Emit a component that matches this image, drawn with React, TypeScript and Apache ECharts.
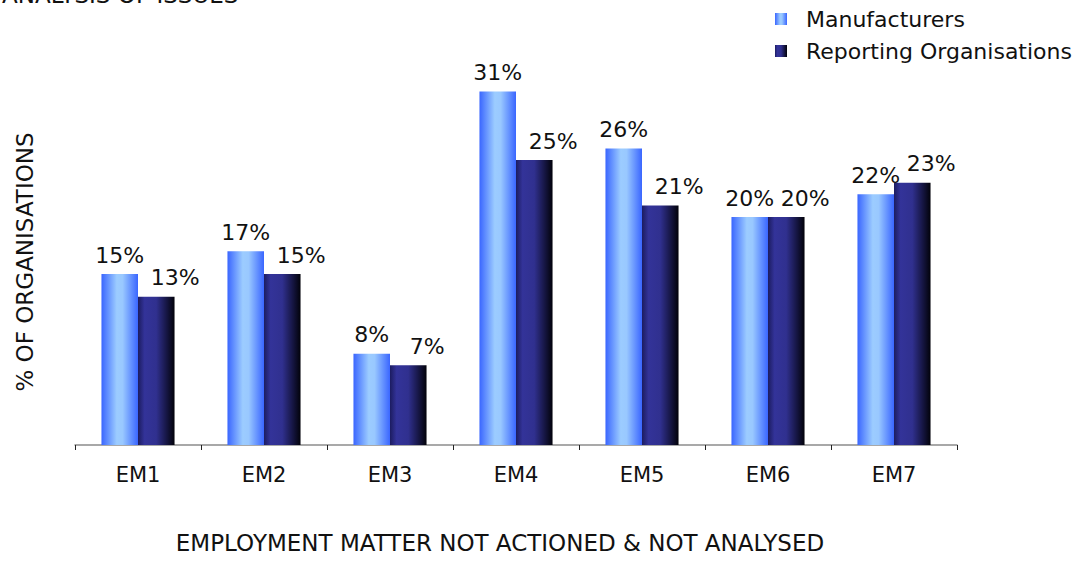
import React, { useEffect, useRef } from "react";
import * as echarts from "echarts";

const categories = ["EM1", "EM2", "EM3", "EM4", "EM5", "EM6", "EM7"];
const manufacturers = [15, 17, 8, 31, 26, 20, 22];
const reportingOrgs = [13, 15, 7, 25, 21, 20, 23];
const seriesNames = ["Manufacturers", "Reporting Organisations"];

const FONT = "DejaVu Sans";

const manufacturersFill = new echarts.graphic.LinearGradient(0, 0, 1, 0, [
  { offset: 0, color: "#3a66ff" },
  { offset: 0.42, color: "#9cccff" },
  { offset: 0.58, color: "#99c8ff" },
  { offset: 1, color: "#3a66ff" },
]);

const reportingFill = new echarts.graphic.LinearGradient(0, 0, 1, 0, [
  { offset: 0, color: "#1c1c60" },
  { offset: 0.18, color: "#333399" },
  { offset: 0.5, color: "#30308f" },
  { offset: 1, color: "#02020a" },
]);

export default function App() {
  const ref = useRef<HTMLDivElement>(null);

  useEffect(() => {
    if (!ref.current) return;
    document.body.style.margin = "0";
    const chart = echarts.init(ref.current, undefined, { renderer: "svg" });

    const labelBase = {
      show: true,
      position: "top" as const,
      distance: 8,
      fontFamily: FONT,
      fontSize: 22,
      color: "#111",
      formatter: (p: any) => `${p.value}%`,
    };

    chart.setOption({
      animation: false,
      backgroundColor: "#fff",
      textStyle: { fontFamily: FONT },
      legend: {
        orient: "vertical",
        left: 770,
        top: 3,
        itemWidth: 12,
        itemHeight: 12,
        itemGap: 10,
        icon: "rect",
        data: seriesNames,
        textStyle: {
          fontFamily: FONT,
          fontSize: 22,
          color: "#111",
          padding: [0, 0, 0, 14],
        },
      },
      grid: { left: 75, right: 121, top: 46, bottom: 116 },
      xAxis: {
        type: "category",
        data: categories,
        boundaryGap: true,
        axisLine: { lineStyle: { color: "#8c8c8c", width: 1.5 } },
        axisTick: { show: true, length: 5, lineStyle: { color: "#222" } },
        axisLabel: { fontFamily: FONT, fontSize: 21, color: "#111", margin: 19 },
      },
      yAxis: {
        type: "value",
        min: 0,
        max: 35,
        show: false,
      },
      series: [
        {
          name: seriesNames[0],
          type: "bar",
          data: manufacturers,
          barWidth: "29%",
          barGap: "0%",
          itemStyle: { color: manufacturersFill },
          label: labelBase,
        },
        {
          name: seriesNames[1],
          type: "bar",
          data: reportingOrgs,
          barWidth: "29%",
          barGap: "0%",
          itemStyle: { color: reportingFill },
          label: { ...labelBase, offset: [19, 0] },
        },
      ],
      graphic: [
        {
          type: "text",
          left: 2,
          top: -17,
          style: {
            text: "ANALYSIS OF ISSUES",
            fontFamily: FONT,
            fontSize: 23,
            fill: "#111",
          },
        },
        {
          type: "text",
          x: 25,
          y: 262,
          rotation: Math.PI / 2,
          style: {
            text: "% OF ORGANISATIONS",
            fontFamily: FONT,
            fontSize: 23,
            fill: "#111",
            align: "center",
            verticalAlign: "middle",
          },
        },
        {
          type: "text",
          x: 500,
          y: 543,
          style: {
            text: "EMPLOYMENT MATTER NOT ACTIONED & NOT ANALYSED",
            fontFamily: FONT,
            fontSize: 23,
            fill: "#111",
            align: "center",
            verticalAlign: "middle",
          },
        },
      ],
    });

    return () => chart.dispose();
  }, []);

  return <div ref={ref} style={{ width: 1078, height: 561 }} />;
}
